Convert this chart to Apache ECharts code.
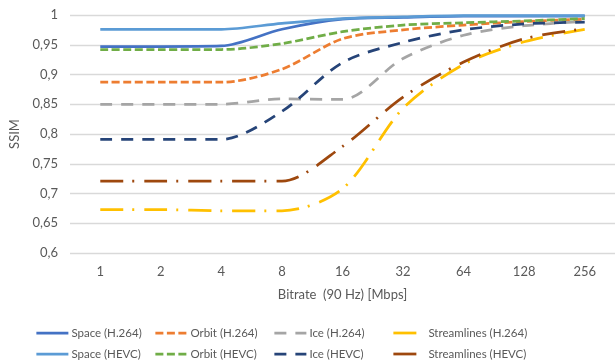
<!DOCTYPE html>
<html>
<head>
<meta charset="utf-8">
<script src="https://cdn.jsdelivr.net/npm/echarts@6/dist/echarts.min.js"></script>
<style>
  html, body { margin: 0; padding: 0; background: #fff; }
  #chart { width: 616px; height: 360px; }
</style>
</head>
<body>
<div id="chart"></div>
<script>
// bitrate steps (Mbps)
const bitrates = ['1', '2', '4', '8', '16', '32', '64', '128', '256'];

const spaceH264 = [0.947, 0.947, 0.948, 0.976, 0.993, 0.996, 0.998, 0.998, 0.998];
const orbitH264 = [0.887, 0.887, 0.887, 0.909, 0.960, 0.975, 0.983, 0.989, 0.993];
const iceH264 = [0.850, 0.850, 0.850, 0.859, 0.858, 0.927, 0.966, 0.982, 0.989];
const streamH264 = [0.673, 0.673, 0.671, 0.671, 0.708, 0.843, 0.917, 0.955, 0.976];
const spaceHEVC = [0.976, 0.976, 0.976, 0.986, 0.994, 0.997, 0.999, 0.999, 0.999];
const orbitHEVC = [0.942, 0.942, 0.942, 0.952, 0.972, 0.983, 0.987, 0.990, 0.994];
const iceHEVC = [0.791, 0.791, 0.791, 0.838, 0.920, 0.954, 0.975, 0.985, 0.988];
const streamHEVC = [0.721, 0.721, 0.721, 0.721, 0.779, 0.862, 0.921, 0.960, 0.977];

const yTicks = [0.6, 0.65, 0.7, 0.75, 0.8, 0.85, 0.9, 0.95, 1];

const FONT = 'Lato';
const TXT = '#595959';

const dashShort = [8, 3.5];
const dashLong = [12, 9];
const dashDot = [23, 9, 2, 10];

const mkLine = (name, data, color, dash) => ({
  name,
  type: 'line',
  data,
  smooth: 0.3,
  symbol: 'none',
  lineStyle: { color, width: 2.75, type: dash || 'solid', cap: 'butt' },
  itemStyle: { color },
});

const series = [
  mkLine('Space (H.264)', spaceH264, '#4472C4'),
  mkLine('Orbit (H.264)', orbitH264, '#ED7D31', dashShort),
  mkLine('Ice (H.264)', iceH264, '#A5A5A5', dashLong),
  mkLine('Streamlines (H.264)', streamH264, '#FFC000', dashDot),
  mkLine('Space (HEVC)', spaceHEVC, '#5B9BD5'),
  mkLine('Orbit (HEVC)', orbitHEVC, '#70AD47', dashShort),
  mkLine('Ice (HEVC)', iceHEVC, '#264478', dashLong),
  mkLine('Streamlines (HEVC)', streamHEVC, '#9E480E', dashDot),
];

// one legend per entry so the columns sit on a fixed 120px pitch
const legends = series.map((s, i) => ({
  data: [s.name],
  left: 30 + (i % 4) * 119,
  top: i < 4 ? 322 : 343,
  itemWidth: 32,
  itemHeight: 10,
  selectedMode: false,
  itemStyle: { opacity: 0 },
  lineStyle: { width: 2.75 },
  textStyle: { fontFamily: FONT, fontSize: 11.5, color: TXT, padding: [0, 0, 0, -2] },
}));

const chart = echarts.init(document.getElementById('chart'));
chart.setOption({
  animation: false,
  grid: { left: 70, right: 1, top: 15, bottom: 107 },
  legend: legends,
  xAxis: {
    type: 'category',
    data: bitrates,
    boundaryGap: true,
    name: 'Bitrate  (90 Hz) [Mbps]',
    nameLocation: 'middle',
    nameGap: 35,
    nameTextStyle: { fontFamily: FONT, fontSize: 13, color: TXT },
    axisLine: { show: false },
    axisTick: { show: false },
    axisLabel: { fontFamily: FONT, fontSize: 13, color: TXT, margin: 12 },
  },
  yAxis: {
    type: 'value',
    min: yTicks[0],
    max: yTicks[yTicks.length - 1],
    interval: 0.05,
    name: 'SSIM',
    nameLocation: 'middle',
    nameGap: 44,
    nameTextStyle: { fontFamily: FONT, fontSize: 13, color: TXT },
    axisLine: { show: false },
    axisTick: { show: false },
    splitLine: { lineStyle: { color: '#d9d9d9', width: 1.3 } },
    axisLabel: {
      fontFamily: FONT, fontSize: 13, color: TXT, margin: 12,
      formatter: v => String(Math.round(v * 100) / 100).replace('.', ','),
    },
  },
  series,
});
</script>
</body>
</html>
